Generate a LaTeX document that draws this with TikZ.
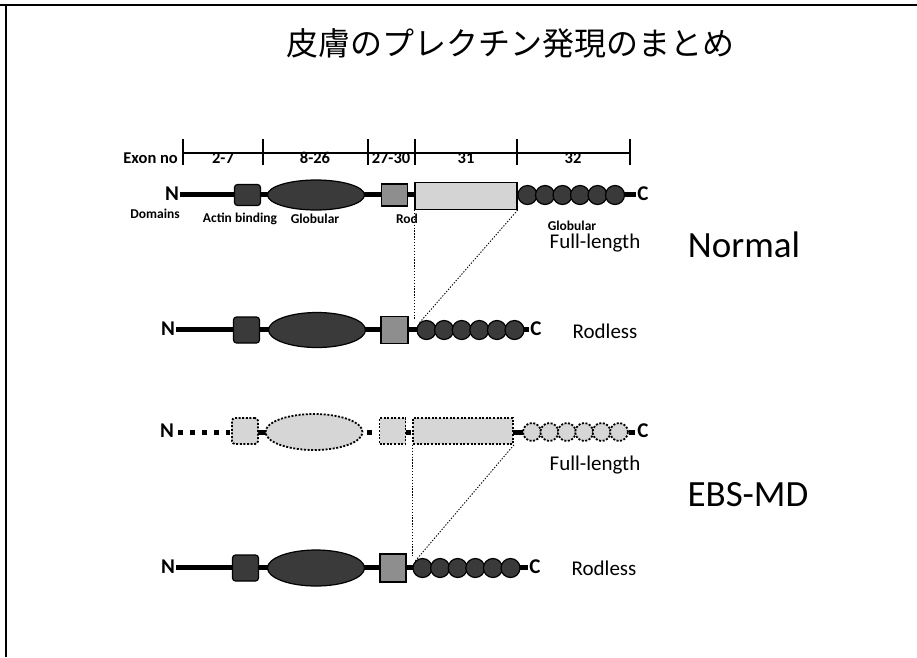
\documentclass[tikz,border=0pt]{standalone}
\usepackage{fontspec}
\setmainfont{Carlito}
\newfontfamily\jpfont{Noto Sans CJK JP}
\usetikzlibrary{shapes.geometric}
\definecolor{darkfill}{HTML}{3A3A3A}
\definecolor{midfill}{HTML}{8E8E8E}
\definecolor{rodfill}{HTML}{D4D4D4}
\definecolor{palefill}{HTML}{D6D6D6}
\begin{document}
\begin{tikzpicture}[x=1pt,y=-1pt,
  every node/.style={inner sep=1pt},
  bb/.style={line width=5pt},
  term/.style={font=\fontsize{21}{21}\selectfont\bfseries},
  lbl/.style={font=\fontsize{13.5}{13.5}\selectfont\bfseries},
  exlbl/.style={font=\fontsize{16.5}{16.5}\selectfont\bfseries},
  kind/.style={font=\fontsize{21}{21}\selectfont},
  big/.style={font=\fontsize{37}{37}\selectfont},
  actin/.style={draw, line width=1.2pt, rounded corners=3pt, fill=darkfill, minimum width=26pt, minimum height=21pt, inner sep=0pt},
  globe/.style={ellipse, draw, line width=1.2pt, fill=darkfill, minimum width=97pt, minimum height=30pt, inner sep=0pt},
  linkbox/.style={draw, line width=1.2pt, fill=midfill, minimum width=26pt, minimum height=22pt, inner sep=0pt},
  rodbox/.style={draw, line width=1.2pt, fill=rodfill, minimum width=102pt, minimum height=27pt, inner sep=0pt},
  bead/.style={circle, draw, line width=1.2pt, fill=darkfill, minimum size=19pt, inner sep=0pt},
  ghost/.style={fill=palefill, line width=1.8pt, dash pattern=on 2pt off 1.6pt},
  guide/.style={line width=0.9pt, dash pattern=on 1.3pt off 1.6pt}
]
\useasboundingbox (0,0) rectangle (917,657);
\fill[white] (0,0) rectangle (917,657);
% frame
\draw[line width=1.5pt] (0,5) -- (917,5);
\draw[line width=1.2pt] (6,5) -- (6,657);

% title
\node[font=\jpfont\fontsize{32}{32}\selectfont] (title) at (510,43) {皮膚のプレクチン発現のまとめ};

% exon ruler
\foreach \n/\x in {0/183,1/263,2/368,3/415,4/517,5/630}{
  \coordinate (t\n) at (\x,153);
  \draw[line width=1.6pt] (\x,139) -- (\x,165);
}
\draw[line width=1.6pt] (t0) -- (t5);
\node[exlbl, anchor=east] (exon) at (179,158) {Exon no};
\node[exlbl] (e1) at (223,158) {2-7};
\node[exlbl] (e2) at (315,158) {8-26};
\node[exlbl] (e3) at (391,158) {27-30};
\node[exlbl] (e4) at (466,158) {31};
\node[exlbl] (e5) at (573,158) {32};

% ---------- Row 1 : Normal full-length ----------
\node[term] (n1) at (172,194) {N};
\node[term] (c1) at (643,194) {C};
\draw[bb] (n1.east) -- (c1.west);
\node[actin] (a1) at (247.5,195) {};
\node[globe] (g1) at (316,195) {};
\node[linkbox] (l1) at (394.5,195) {};
\node[rodbox] (r1) at (466,196) {};
\foreach \i in {0,...,5}{\node[bead] (b1\i) at ({527.5+17.5*\i},195) {};}
\node[lbl, anchor=east] (dom) at (181,214) {Domains};
\node[lbl] (la) at (240,219) {Actin binding};
\node[lbl] (lg) at (315,219) {Globular};
\node[lbl] (lr) at (407,219) {Rod};
\node[lbl] (lg2) at (572,226) {Globular};
\node[kind] (fl1) at (595,243) {Full-length};
\node[big] (normal) at (744,245) {Normal};

% ---------- Row 2 : Normal rodless ----------
\node[term] (n2) at (168,329) {N};
\node[term] (c2) at (536,329) {C};
\draw[bb] (n2.east) -- (c2.west);
\node[actin, minimum height=26pt] (a2) at (246.5,330) {};
\node[globe, minimum height=35pt] (g2) at (317,330) {};
\node[linkbox, minimum width=27pt, minimum height=27pt] (l2) at (394.5,330) {};
\foreach \i in {0,...,5}{\node[bead] (b2\i) at ({426.5+17.6*\i},330) {};}
\node[kind] (rl2) at (605,331) {Rodless};

% guides row1 -> row2
\draw[guide] (r1.south west) -- (r1.south west |- b20.north);
\draw[guide] (r1.south east) -- (b20.north west);

% ---------- Row 3 : EBS-MD full-length ----------
\node[term] (n3) at (167,431) {N};
\node[term] (c3) at (643,431) {C};
\draw[bb, dash pattern=on 5pt off 7pt] (178,432) -- (230,432);
\draw[bb] (257,432) -- (266,432);
\draw[bb] (366.5,432) -- (372,432);
\draw[bb] (405,432) -- (410.5,432);
\draw[bb] (512,432) -- (524,432);
\draw[bb] (628.5,432) -- (634.5,432);
\node[actin, ghost, minimum height=26pt] (a3) at (245,431) {};
\node[globe, ghost, minimum height=36pt] (g3) at (314,432) {};
\node[linkbox, ghost, minimum width=26pt, minimum height=26pt] (l3) at (392.5,431) {};
\node[rodbox, ghost, minimum width=100pt, minimum height=26pt] (r3) at (463,431) {};
\foreach \i in {0,...,5}{\node[bead, ghost, minimum size=18pt] (b3\i) at ({532+17.4*\i},432) {};}
\node[kind] (fl3) at (595,465) {Full-length};
\node[big] (ebs) at (748,495) {EBS-MD};

% ---------- Row 4 : EBS-MD rodless ----------
\node[term] (n4) at (168,567) {N};
\node[term] (c4) at (535,567) {C};
\draw[bb] (n4.east) -- (c4.west);
\node[actin, minimum height=26pt] (a4) at (245.5,568) {};
\node[globe, minimum height=36pt] (g4) at (316,568) {};
\node[linkbox, minimum width=26pt, minimum height=28pt] (l4) at (393,568) {};
\foreach \i in {0,...,5}{\node[bead] (b4\i) at ({422.5+17.6*\i},568) {};}
\node[kind] (rl4) at (604,568) {Rodless};

% guides row3 -> row4
\draw[guide] (r3.south west) -- (r3.south west |- b40.north);
\draw[guide] (r3.south east) -- (b40.north west);
\end{tikzpicture}
\end{document}
